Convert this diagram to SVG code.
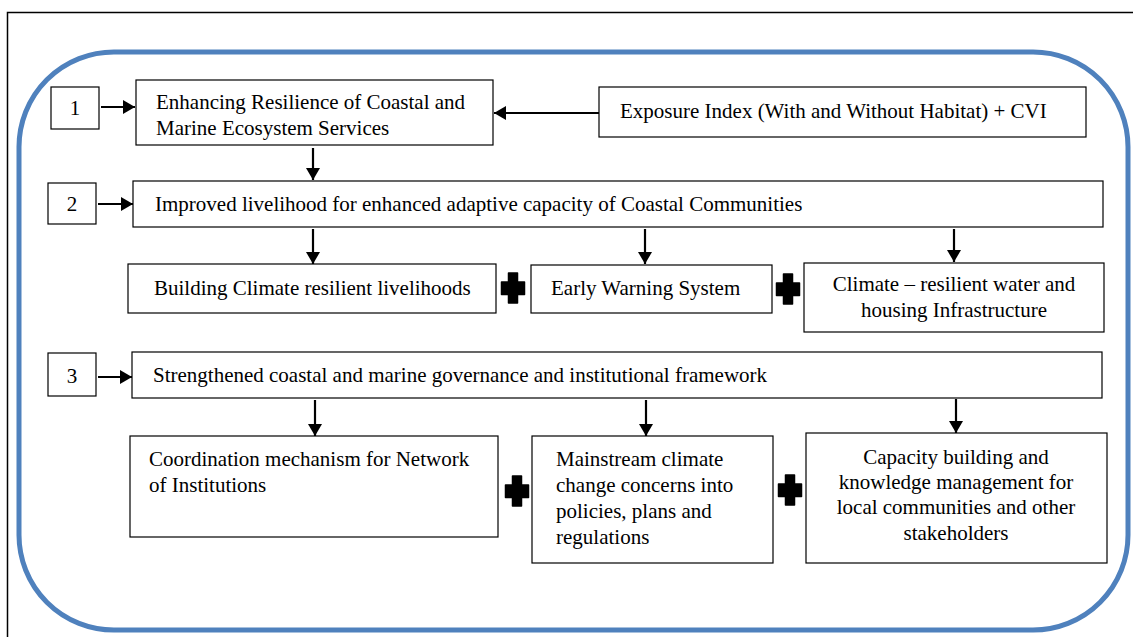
<svg xmlns="http://www.w3.org/2000/svg" width="1133" height="637" viewBox="0 0 1133 637">
<style>
.box{fill:#fff;stroke:#000;stroke-width:1.2}
.t{font-family:"Liberation Serif","Times New Roman",serif;font-size:21px;fill:#000}
.c{text-anchor:middle}
.conn{stroke:#000;stroke-width:2.2;fill:none;marker-end:url(#ah)}
</style>
<defs>
<marker id="ah" markerUnits="userSpaceOnUse" markerWidth="14" markerHeight="16" refX="12" refY="7" orient="auto">
<path d="M0,0 L12,7 L0,14 Z" fill="#000"/>
</marker>
<path id="plus" d="M-4.5,-15 H4.5 V-6 H11.5 V6.5 H4.5 V15 H-4.5 V6.5 H-11.5 V-6 H-4.5 Z" fill="#000" stroke="#000" stroke-width="1.5" stroke-linejoin="round"/>
</defs>
<rect x="7.5" y="12.5" width="1140" height="640" fill="#fff" stroke="#000" stroke-width="1.5"/>
<rect x="19" y="52" width="1109" height="578" rx="95" ry="95" fill="none" stroke="#4f81bd" stroke-width="5"/>

<g id="n1"><rect class="box" x="51" y="87" width="48" height="42"/><text class="t c" x="75" y="115">1</text></g>
<g id="b1"><rect class="box" x="136" y="80" width="357" height="65"/><text class="t" x="156" y="109">Enhancing Resilience of Coastal and</text><text class="t" x="156" y="135">Marine Ecosystem Services</text></g>
<g id="exp"><rect class="box" x="599" y="87" width="487" height="50"/><text class="t" x="620" y="118">Exposure Index (With and Without Habitat) + CVI</text></g>

<g id="n2"><rect class="box" x="48" y="183" width="48" height="41"/><text class="t c" x="72" y="211">2</text></g>
<g id="b2"><rect class="box" x="133" y="181" width="970" height="46"/><text class="t" x="155" y="211">Improved livelihood for enhanced adaptive capacity of Coastal Communities</text></g>
<g id="r2a"><rect class="box" x="128" y="264" width="368" height="49"/><text class="t" x="154" y="295">Building Climate resilient livelihoods</text></g>
<g id="r2b"><rect class="box" x="531" y="265" width="241" height="48"/><text class="t" x="551" y="295">Early Warning System</text></g>
<g id="r2c"><rect class="box" x="804" y="263" width="300" height="69"/><text class="t c" x="954" y="291">Climate – resilient water and</text><text class="t c" x="954" y="317">housing Infrastructure</text></g>

<g id="n3"><rect class="box" x="48" y="353" width="48" height="43"/><text class="t c" x="72" y="383">3</text></g>
<g id="b3"><rect class="box" x="132" y="352" width="970" height="46"/><text class="t" x="153" y="382">Strengthened coastal and marine governance and institutional framework</text></g>
<g id="r3a"><rect class="box" x="130" y="436" width="368" height="101"/><text class="t" x="149" y="466">Coordination mechanism for Network</text><text class="t" x="149" y="492">of Institutions</text></g>
<g id="r3b"><rect class="box" x="532" y="436" width="241" height="127"/><text class="t" x="556" y="466">Mainstream climate</text><text class="t" x="556" y="492">change concerns into</text><text class="t" x="556" y="518">policies, plans and</text><text class="t" x="556" y="544">regulations</text></g>
<g id="r3c"><rect class="box" x="806" y="433" width="301" height="130"/><text class="t c" x="956" y="464">Capacity building and</text><text class="t c" x="956" y="489">knowledge management for</text><text class="t c" x="956" y="514">local communities and other</text><text class="t c" x="956" y="540">stakeholders</text></g>

<g id="plus-signs">
<use href="#plus" x="513" y="288"/>
<use href="#plus" x="788" y="289"/>
<use href="#plus" x="517" y="491"/>
<use href="#plus" x="790" y="490"/>
</g>

<g id="connectors">
<path class="conn" d="M101,107 H135"/>
<path class="conn" d="M599,113 H494"/>
<path class="conn" d="M313,148 V180"/>
<path class="conn" d="M98,204 H133"/>
<path class="conn" d="M313,229 V264"/>
<path class="conn" d="M645,229 V264"/>
<path class="conn" d="M954,229 V262"/>
<path class="conn" d="M98,377 H132"/>
<path class="conn" d="M315,400 V436"/>
<path class="conn" d="M646,400 V436"/>
<path class="conn" d="M956,399 V433"/>
</g>
</svg>
